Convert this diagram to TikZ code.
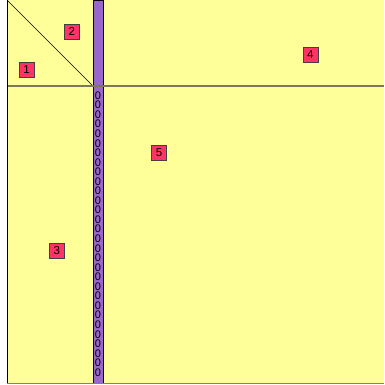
\documentclass[tikz,border=0pt]{standalone}
\usepackage{fontspec}
\setmainfont{Liberation Sans}
\definecolor{paneyellow}{HTML}{FFFF99}
\definecolor{tagred}{HTML}{FF3366}
\definecolor{barviolet}{HTML}{9966CC}
\definecolor{seamgray}{HTML}{7A7A5A}
\begin{document}
\begin{tikzpicture}[x=1pt,y=-1pt,font=\fontsize{11.5}{12}\selectfont,
  tag/.style={draw=black!75,fill=tagred,inner sep=0pt,minimum width=15pt,minimum height=15pt}]
\useasboundingbox (0,0) rectangle (384,385);
\fill[paneyellow] (7,0) rectangle (384,383);
\draw[semithick] (7,0) -- (93,86);
\draw[semithick,fill=barviolet] (93,0) rectangle (103,383);
\draw[seamgray,line width=1.2pt] (7,86) -- (384,86);
\draw[black,thick] (7,0) -- (7,383);
\draw[gray,thick] (7,383) -- (384,383);
\foreach \i in {0,...,29} \node[inner sep=0pt,font=\fontsize{11}{11}\selectfont] (zero\i) at (98,95.5+9.55*\i) {0};
\node[tag] (tag1) at (26.5,70) {1};
\node[tag] (tag2) at (71.8,31.8) {2};
\node[tag] (tag3) at (56.7,251) {3};
\node[tag] (tag4) at (310.3,54.5) {4};
\node[tag] (tag5) at (159,153) {5};
\end{tikzpicture}
\end{document}
